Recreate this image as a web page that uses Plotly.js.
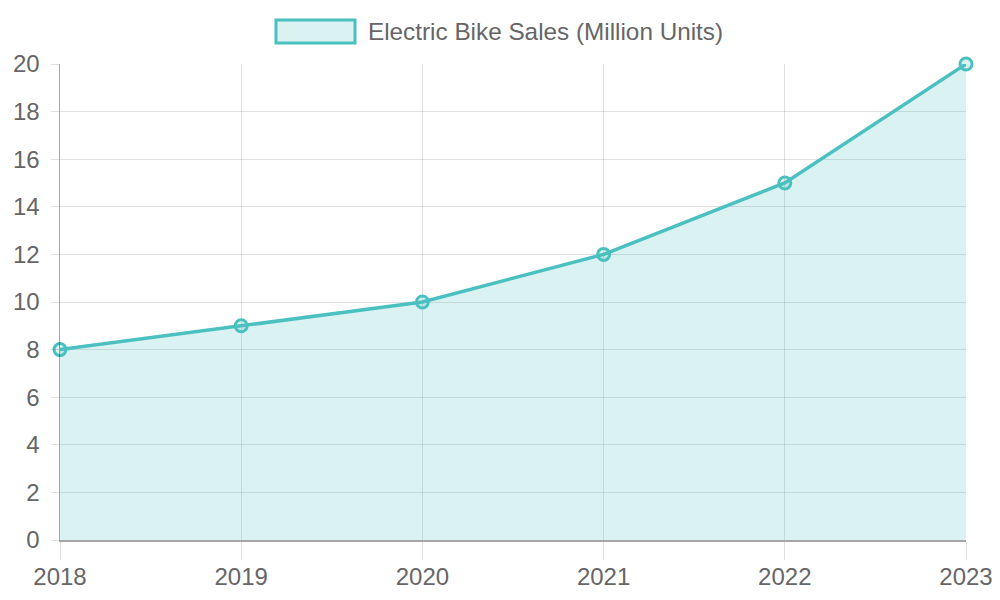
<!DOCTYPE html>
<html>
<head>
<meta charset="utf-8">
<script src="https://cdn.plot.ly/plotly-3.0.1.min.js"></script>
<style>html,body{margin:0;padding:0;background:#fff}#chart{width:1000px;height:600px}</style>
</head>
<body>
<div id="chart"></div>
<script>
const years = ['2018', '2019', '2020', '2021', '2022', '2023'];
const sales = [8, 9, 10, 12, 15, 20];
const seriesName = 'Electric Bike Sales (Million Units)';

const lineColor = 'rgb(75,192,192)';
const fillColor = 'rgba(75,192,192,0.2)';
const gridColor = 'rgba(0,0,0,0.12)';
const axisColor = 'rgba(0,0,0,0.35)';
const textColor = '#666';
const font = 'Liberation Sans, Arial, sans-serif';

const trace = {
  x: years,
  y: sales,
  type: 'scatter',
  mode: 'lines+markers',
  fill: 'tozeroy',
  fillcolor: fillColor,
  line: {color: lineColor, width: 3.5},
  marker: {size: 12, color: fillColor, line: {color: lineColor, width: 3}},
  name: seriesName,
  showlegend: false,
  cliponaxis: false,
  hoverinfo: 'x+y'
};

const layout = {
  width: 1000, height: 600,
  margin: {l: 60, r: 34, t: 64, b: 60},
  paper_bgcolor: '#fff', plot_bgcolor: '#fff',
  font: {family: font, size: 24, color: textColor},
  xaxis: {
    type: 'category', range: [0, 5],
    showgrid: true, gridcolor: gridColor, gridwidth: 1,
    ticks: 'outside', ticklen: 18, tickcolor: gridColor, tickwidth: 1,
    showline: true, linecolor: axisColor, linewidth: 1.5,
    zeroline: false,
    tickfont: {family: font, size: 24, color: textColor},
    ticklabelstandoff: -3
  },
  yaxis: {
    range: [0, 20], dtick: 2, tick0: 0,
    showgrid: true, gridcolor: gridColor, gridwidth: 1,
    ticks: 'outside', ticklen: 8, tickcolor: gridColor, tickwidth: 1,
    showline: true, linecolor: axisColor, linewidth: 1.5,
    zeroline: false,
    tickfont: {family: font, size: 24, color: textColor},
    ticklabelstandoff: 6
  },
  shapes: [{
    type: 'rect', xref: 'paper', yref: 'paper',
    x0: (276 - 60) / 906, x1: (355 - 60) / 906,
    y0: (540 - 43) / 476, y1: (540 - 20) / 476,
    fillcolor: fillColor, line: {color: lineColor, width: 3}
  }],
  annotations: [{
    xref: 'paper', yref: 'paper',
    x: (366 - 60) / 906, y: (540 - 31.5) / 476,
    xanchor: 'left', yanchor: 'middle',
    text: seriesName, showarrow: false,
    font: {family: font, size: 24.3, color: textColor}
  }]
};

Plotly.newPlot('chart', [trace], layout, {displayModeBar: false, staticPlot: true});
</script>
</body>
</html>
